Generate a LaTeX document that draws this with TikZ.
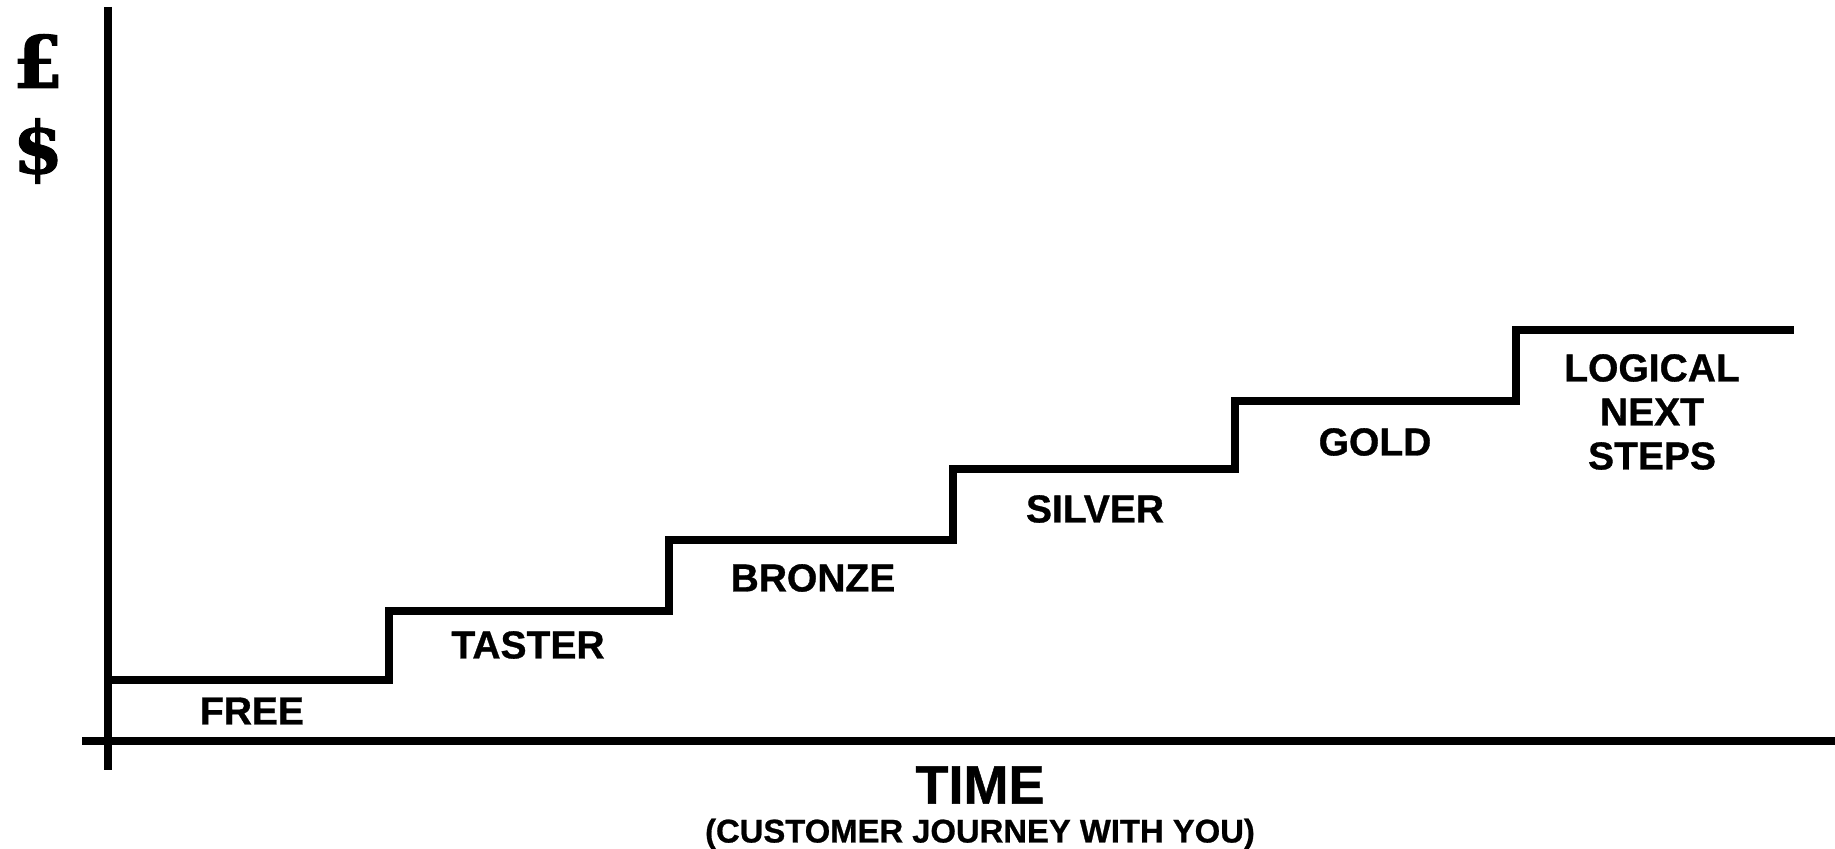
\documentclass[tikz,border=0pt]{standalone}
\usepackage{fontspec}
\setmainfont{Liberation Sans}[BoldFeatures={FakeBold=0.8}]
\newfontfamily\currfont{DejaVu Serif}[BoldFeatures={FakeBold=1.5}]
\usepackage{tikz}
\usepackage{xcolor}

\begin{document}
\begin{tikzpicture}[x=0.5pt, y=-0.5pt]
  \tikzstyle{axisline}=[line width=4pt, line cap=butt];
  \tikzstyle{stepline}=[line width=3.7pt, line join=miter];
  \tikzstyle{steptext}=[draw=none, text=black, align=center,
    font=\fontsize{19.5}{22}\selectfont\bfseries, inner sep=0pt];
  \tikzstyle{currtext}=[draw=none, text=black, inner sep=0pt,
    font=\fontsize{36}{36}\selectfont\currfont\bfseries];
  %
  \useasboundingbox (0, 0) rectangle (1835, 849);
  %
  % axes
  \coordinate (ytop) at (108, 7);
  \coordinate (ybot) at (108, 770);
  \coordinate (xleft) at (82, 741);
  \coordinate (xright) at (1835, 741);
  \draw[axisline] (ytop) -- (ybot);
  \draw[axisline] (xleft) -- (xright);
  \node[currtext] (pound) at (38, 61) {£};
  \node[currtext] (dollar) at (38, 151) {\$};
  %
  % staircase
  \coordinate (s0) at (108, 680);
  \draw[stepline] (s0) -- ++(281, 0) -- ++(0, -69) -- ++(280, 0)
  -- ++(0, -71) -- ++(284, 0) -- ++(0, -71) -- ++(282, 0)
  -- ++(0, -68) -- ++(281, 0) -- ++(0, -71) -- ++(278, 0);
  %
  % step labels
  \node[steptext] (free) at (252, 711) {FREE};
  \node[steptext] (taster) at (528, 645) {TASTER};
  \node[steptext] (bronze) at (813, 578) {BRONZE};
  \node[steptext] (silver) at (1095, 509) {SILVER};
  \node[steptext] (gold) at (1375, 442) {GOLD};
  \node[steptext] (next) at (1652, 412) {LOGICAL\\NEXT\\STEPS};
  %
  % time axis title
  \node[draw=none, inner sep=0pt, font=\fontsize{27}{27}\selectfont\bfseries]
    (time) at (980, 785) {TIME};
  \node[draw=none, inner sep=0pt, font=\fontsize{16.4}{16}\selectfont\bfseries]
    (journey) at (980, 834) {(CUSTOMER JOURNEY WITH YOU)};
\end{tikzpicture}
\end{document}
